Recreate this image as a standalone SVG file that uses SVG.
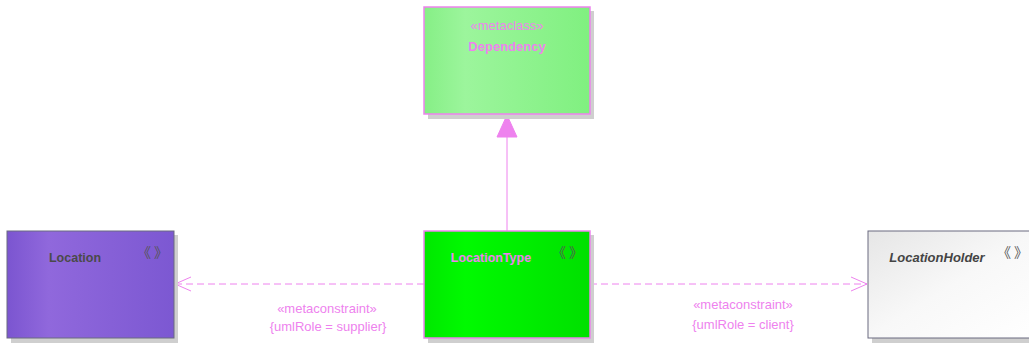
<svg xmlns="http://www.w3.org/2000/svg" width="1029" height="343" viewBox="0 0 1029 343">
<defs>
<linearGradient id="gDep" x1="0" y1="0" x2="1" y2="0">
<stop offset="0" stop-color="#86ef86"/><stop offset="0.25" stop-color="#9cf59c"/><stop offset="1" stop-color="#80f080"/>
</linearGradient>
<linearGradient id="gLT" x1="0" y1="0" x2="1" y2="0">
<stop offset="0" stop-color="#00e800"/><stop offset="0.25" stop-color="#00fa00"/><stop offset="1" stop-color="#00e000"/>
</linearGradient>
<linearGradient id="gLoc" x1="0" y1="0" x2="1" y2="0">
<stop offset="0" stop-color="#7b55d0"/><stop offset="0.25" stop-color="#9068dc"/><stop offset="1" stop-color="#7c58d2"/>
</linearGradient>
<linearGradient id="gLH" x1="0" y1="0" x2="1" y2="1">
<stop offset="0" stop-color="#e6e6e6"/><stop offset="0.5" stop-color="#f8f8f8"/><stop offset="1" stop-color="#ffffff"/>
</linearGradient>
<marker id="open" markerWidth="20" markerHeight="20" refX="0" refY="0" orient="auto" markerUnits="userSpaceOnUse" viewBox="-18 -10 20 20">
<path d="M-16,-7 L0,0 L-16,7" fill="none" stroke="#ee82ee" stroke-width="1"/>
</marker>
</defs>
<style>
text{font-family:"Liberation Sans",Arial,sans-serif;font-size:13px}
.shadow{fill:#cfcfcf}
.lbl{fill:#ee82ee;text-anchor:middle}
.nm{font-weight:bold;text-anchor:middle;font-size:12.5px}
.chev{fill:#555;font-size:14px;font-family:"Noto Sans CJK JP","Noto Sans CJK SC",sans-serif}
.dash{fill:none;stroke:#ee82ee;stroke-width:1;stroke-dasharray:7,4}
</style>
<g id="connectors">
<line x1="507" y1="231" x2="507" y2="136" stroke="#ee82ee" stroke-width="1"/>
<path d="M507,115 L517,137 L497,137 Z" fill="#ee82ee" stroke="#ee82ee" stroke-width="1"/>
<line class="dash" x1="424" y1="284" x2="175" y2="284" marker-end="url(#open)"/>
<line class="dash" x1="590" y1="284" x2="867" y2="284" marker-end="url(#open)"/>
<text class="lbl" x="327" y="313">«metaconstraint»</text>
<text class="lbl" x="328" y="331">{umlRole = supplier}</text>
<text class="lbl" x="743" y="309">«metaconstraint»</text>
<text class="lbl" x="743" y="329">{umlRole = client}</text>
</g>
<g id="Dependency">
<rect class="shadow" x="428" y="11" width="166" height="108"/>
<rect x="424" y="7" width="166" height="107" fill="url(#gDep)" stroke="#ee82ee" stroke-width="1.5"/>
<text class="lbl" x="507" y="30">«metaclass»</text>
<text class="lbl" x="507" y="51" font-weight="bold">Dependency</text>
</g>
<g id="Location">
<rect class="shadow" x="11" y="235" width="167" height="108"/>
<rect x="7" y="231" width="167" height="107" fill="url(#gLoc)" stroke="#6a6a80" stroke-width="1"/>
<text class="nm" x="75" y="262" fill="#4a4a4a">Location</text>
<text class="chev" x="137" y="257">《<tspan dx="3">》</tspan></text>
</g>
<g id="LocationType">
<rect class="shadow" x="428" y="235" width="166" height="108"/>
<rect x="424" y="231" width="166" height="107" fill="url(#gLT)" stroke="#ee82ee" stroke-width="1.5"/>
<text class="nm" x="491" y="262" fill="#ee82ee">LocationType</text>
<text class="chev" x="552" y="257">《<tspan dx="3">》</tspan></text>
</g>
<g id="LocationHolder">
<rect class="shadow" x="872" y="235" width="170" height="108"/>
<rect x="868" y="231" width="170" height="107" fill="url(#gLH)" stroke="#6a6a80" stroke-width="1"/>
<text x="937" y="262" fill="#444" font-weight="bold" font-style="italic" font-size="12.5" text-anchor="middle">LocationHolder</text>
<text class="chev" x="997" y="257">《<tspan dx="3">》</tspan></text>
</g>
</svg>
